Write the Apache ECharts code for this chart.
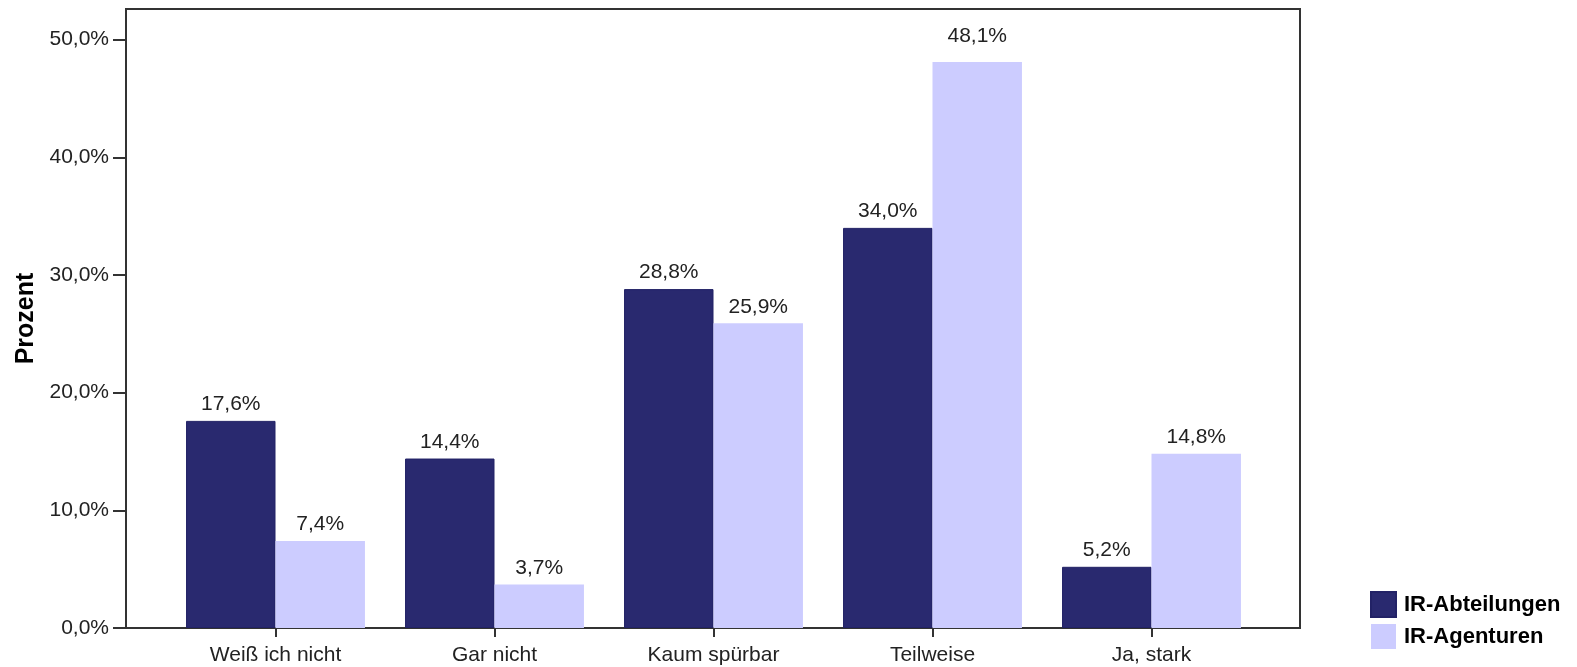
<!DOCTYPE html>
<html><head><meta charset="utf-8">
<script src="https://cdn.jsdelivr.net/npm/echarts@6/dist/echarts.min.js"></script>
<style>html,body{margin:0;padding:0;background:#fff}#c{width:1577px;height:667px}</style>
</head><body><div id="c"></div>
<script>
const categories = ['Weiß ich nicht', 'Gar nicht', 'Kaum spürbar', 'Teilweise', 'Ja, stark'];
const seriesNames = ['IR-Abteilungen', 'IR-Agenturen'];
const abteilungen = [17.6, 14.4, 28.8, 34.0, 5.2];
const agenturen = [7.4, 3.7, 25.9, 48.1, 14.8];
const yTicks = [0, 10, 20, 30, 40, 50];
const colors = ['#29296F', '#CCCCFF'];
const FONT = '"Liberation Sans", Arial, sans-serif';
const fmt = v => v.toFixed(1).replace('.', ',') + '%';

const agenturenData = agenturen.map((v, i) => i === 3 ? {value: v, label: {distance: 15}} : v);

const chart = echarts.init(document.getElementById('c'), null, {renderer: 'canvas'});
chart.setOption({
  animation: false,
  backgroundColor: '#fff',
  textStyle: {fontFamily: FONT},
  grid: [
    {left: 126, right: 277, top: 9, bottom: 39, show: true, borderColor: '#333', borderWidth: 2, backgroundColor: 'transparent', outerBoundsMode: 'none', containLabel: false},
    {left: 166, right: 316, top: 9, bottom: 39, show: false, outerBoundsMode: 'none', containLabel: false}
  ],
  legend: {
    orient: 'vertical', left: 1365, top: 586, itemWidth: 25, itemHeight: 25, itemGap: 6,
    icon: 'rect',
    textStyle: {fontFamily: FONT, fontSize: 22, fontWeight: 'bold', color: '#000', padding: [0, 0, 0, 3]},
    data: seriesNames
  },
  xAxis: {
    type: 'category', data: categories, gridIndex: 1,
    axisLine: {show: false},
    axisTick: {show: true, alignWithLabel: true, length: 9, lineStyle: {color: '#333', width: 2}},
    axisLabel: {fontFamily: FONT, fontSize: 21, color: '#222', margin: 17}
  },
  yAxis: {
    type: 'value', min: 0, max: 52.6, gridIndex: 1, offset: 40,
    name: 'Prozent', nameLocation: 'middle', nameGap: 85, nameRotate: 90,
    nameTextStyle: {fontFamily: FONT, fontSize: 25, fontWeight: 'bold', color: '#000'},
    axisLine: {show: true, lineStyle: {color: '#333', width: 2}},
    axisTick: {show: true, length: 13, customValues: yTicks, lineStyle: {color: '#333', width: 2}},
    axisLabel: {fontFamily: FONT, fontSize: 21, color: '#222', margin: 17, customValues: yTicks, formatter: v => fmt(v)},
    splitLine: {show: false}
  },
  series: [
    {name: seriesNames[0], type: 'bar', data: abteilungen, barGap: '0%', barCategoryGap: '18.3%',
     xAxisIndex: 0, yAxisIndex: 0,
     itemStyle: {color: colors[0], borderColor: '#222266', borderWidth: 1},
     label: {show: true, position: 'top', distance: 6, fontFamily: FONT, fontSize: 21, color: '#222', formatter: p => fmt(p.value)}},
    {name: seriesNames[1], type: 'bar', data: agenturenData, barGap: '0%', barCategoryGap: '18.3%',
     xAxisIndex: 0, yAxisIndex: 0,
     itemStyle: {color: colors[1]},
     label: {show: true, position: 'top', distance: 6, fontFamily: FONT, fontSize: 21, color: '#222', formatter: p => fmt(p.value)}}
  ]
});
</script></body></html>
